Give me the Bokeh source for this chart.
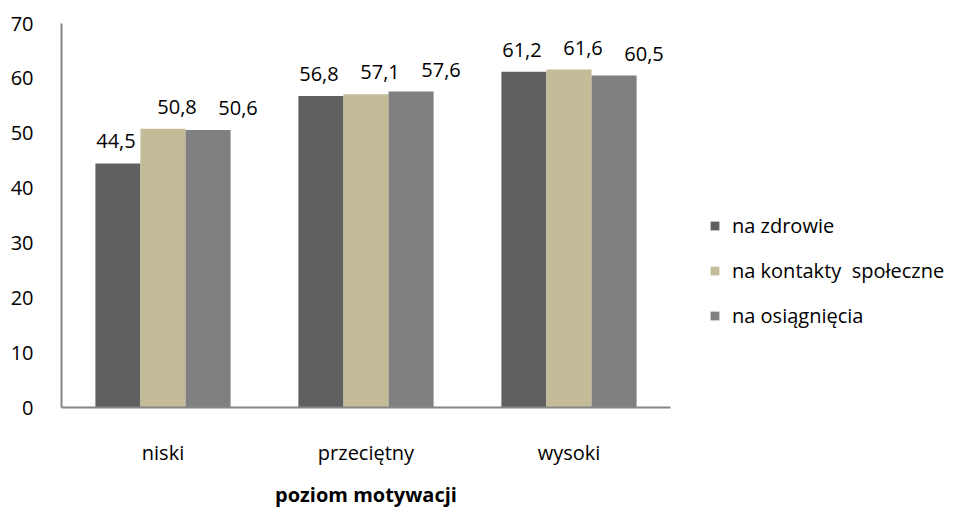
from bokeh.plotting import figure
from bokeh.models import ColumnDataSource, FactorRange, Legend, LegendItem, SingleIntervalTicker
from bokeh.transform import dodge
from bokeh.core.properties import value
from bokeh.embed import file_html
from bokeh.resources import INLINE

categories = ["niski", "przeciętny", "wysoki"]
series_names = ["na zdrowie", "na kontakty  społeczne", "na osiągnięcia"]
zdrowie = [44.5, 56.8, 61.2]
kontakty = [50.8, 57.1, 61.6]
osiagniecia = [50.6, 57.6, 60.5]
x_title = "poziom motywacji"

colors = ["#606060", "#C4BC98", "#808080"]
FONT = "Open Sans"
FS = "20px"

def fmt(v):
    return f"{v:.1f}".replace(".", ",")

src = ColumnDataSource(dict(
    cat=categories,
    s0=zdrowie, s1=kontakty, s2=osiagniecia,
    l0=[fmt(v) for v in zdrowie],
    l1=[fmt(v) for v in kontakty],
    l2=[fmt(v) for v in osiagniecia],
))

p = figure(x_range=FactorRange(*categories, range_padding=0), y_range=(0, 70),
           frame_width=609, frame_height=384,
           min_border_left=61, min_border_right=285, min_border_top=23, min_border_bottom=100,
           output_backend="svg", toolbar_location=None, outline_line_color=None)
p.x_range.range_padding = 0

bw = 0.222
offsets = [-bw, 0, bw]
label_dx = [-2, 14, 30]
renderers = []
for i, (col, lab) in enumerate([("s0", "l0"), ("s1", "l1"), ("s2", "l2")]):
    r = p.vbar(x=dodge("cat", offsets[i], range=p.x_range), top=col, width=bw, source=src,
               fill_color=colors[i], line_color=None)
    renderers.append(r)
    p.text(x=dodge("cat", offsets[i], range=p.x_range), y=col, text=lab, source=src,
           x_offset=label_dx[i], y_offset=-22, text_align="center", text_baseline="middle",
           text_font=value(FONT), text_font_size=FS, text_color="#000000")

p.grid.grid_line_color = None

p.yaxis.ticker = SingleIntervalTicker(interval=10)
p.yaxis.major_tick_line_color = None
p.yaxis.minor_tick_line_color = None
p.yaxis.major_label_standoff = 22
p.yaxis.major_label_text_font = FONT
p.yaxis.major_label_text_font_size = FS
p.yaxis.major_label_text_color = "#000000"
p.yaxis.axis_line_color = "#868686"
p.yaxis.axis_line_width = 2

p.xaxis.major_tick_line_color = None
p.xaxis.minor_tick_line_color = None
p.xaxis.major_label_standoff = 25
p.xaxis.major_label_text_font = FONT
p.xaxis.major_label_text_font_size = FS
p.xaxis.major_label_text_color = "#000000"
p.xaxis.axis_line_color = "#868686"
p.xaxis.axis_line_width = 2
p.xaxis.axis_label = x_title
p.xaxis.axis_label_text_font = FONT
p.xaxis.axis_label_text_font_size = "20px"
p.xaxis.axis_label_text_font_style = "bold"
p.xaxis.axis_label_text_color = "#000000"
p.xaxis.axis_label_standoff = 12

legend = Legend(items=[LegendItem(label=series_names[i], renderers=[renderers[i]]) for i in range(3)],
                location=(39, 78), glyph_width=11, glyph_height=11, label_standoff=12,
                label_text_font=FONT, label_text_font_size=FS, label_text_color="#000000",
                label_height=20, spacing=18, padding=0, margin=0,
                border_line_color=None, background_fill_alpha=0)
p.add_layout(legend, "right")

open("out.html", "w").write(file_html(p, INLINE))
